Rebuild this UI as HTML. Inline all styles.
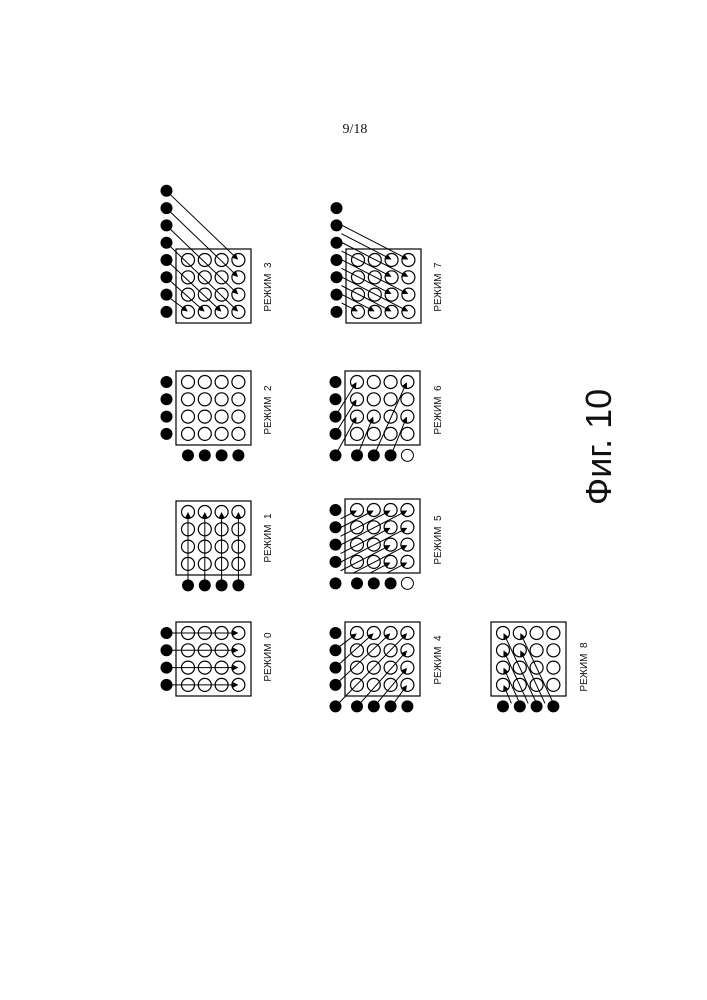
<!DOCTYPE html>
<html><head><meta charset="utf-8">
<style>
html,body{margin:0;padding:0;background:#fff;}
svg{display:block;}
text{font-family:"Liberation Sans",sans-serif;fill:#111;}
</style></head>
<body>
<svg id="s" width="707" height="1000" viewBox="0 0 707 1000" xmlns="http://www.w3.org/2000/svg">
<defs>
<marker id="a" markerWidth="6" markerHeight="6" refX="5" refY="3" orient="auto" markerUnits="userSpaceOnUse">
<path d="M0,0 L6,3 L0,6 z" fill="#000"/>
</marker>
</defs>
<text x="355" y="133" font-size="14" text-anchor="middle" style="font-family:'Liberation Serif',serif">9/18</text>
<text transform="translate(271,287) rotate(-90)" font-size="10" text-anchor="middle">РЕЖИМ&#160; 3</text>
<text transform="translate(271,410) rotate(-90)" font-size="10" text-anchor="middle">РЕЖИМ&#160; 2</text>
<text transform="translate(271,538) rotate(-90)" font-size="10" text-anchor="middle">РЕЖИМ&#160; 1</text>
<text transform="translate(271,657) rotate(-90)" font-size="10" text-anchor="middle">РЕЖИМ&#160; 0</text>
<text transform="translate(441,287) rotate(-90)" font-size="10" text-anchor="middle">РЕЖИМ&#160; 7</text>
<text transform="translate(441,410) rotate(-90)" font-size="10" text-anchor="middle">РЕЖИМ&#160; 6</text>
<text transform="translate(441,540) rotate(-90)" font-size="10" text-anchor="middle">РЕЖИМ&#160; 5</text>
<text transform="translate(441,660) rotate(-90)" font-size="10" text-anchor="middle">РЕЖИМ&#160; 4</text>
<text transform="translate(587,667) rotate(-90)" font-size="10" text-anchor="middle">РЕЖИМ&#160; 8</text>
<text transform="translate(611,447) rotate(-90)" font-size="36" text-anchor="middle">Фиг. 10</text>
<g id="g"></g>
</svg>
<script>
var NS="http://www.w3.org/2000/svg",G=document.getElementById('g');
var DX=16.8,DY=17.3;
function el(t,a){var e=document.createElementNS(NS,t);for(var k in a)e.setAttribute(k,a[k]);G.appendChild(e);return e;}
function mode(ox,oy,opt){
  var P=function(c,r){return [ox+c*DX,oy+r*DY];};
  el('rect',{x:ox-12,y:oy-11,width:75,height:74,fill:'none',stroke:'#000','stroke-width':1.2});
  for(var r=0;r<4;r++)for(var c=0;c<4;c++){var p=P(c,r);el('circle',{cx:p[0],cy:p[1],r:6.5,fill:'#fff',stroke:'#000','stroke-width':1.2});}
  var lx=ox-21.5,by=oy+3*DY+21.5;
  (opt.left||[]).forEach(function(r){el('circle',{cx:lx,cy:oy+r*DY,r:6,fill:'#000'});});
  (opt.bottom||[]).forEach(function(c){el('circle',{cx:ox+c*DX,cy:by,r:6,fill:'#000'});});
  (opt.bottomW||[]).forEach(function(c){el('circle',{cx:ox+c*DX,cy:by,r:6,fill:'#fff',stroke:'#000','stroke-width':1});});
  if(opt.corner)el('circle',{cx:lx,cy:by,r:6,fill:'#000'});
  (opt.lines||[]).forEach(function(L){var a=L[0],b=L[1];el('line',{x1:a[0],y1:a[1],x2:b[0],y2:b[1],stroke:'#000','stroke-width':1,'marker-end':'url(#a)'});});
  return {P:P,lx:lx,by:by};
}
function ln(sx,sy,ex,ey){return [[sx,sy],[ex,ey]];}
(function(){var ox=188,oy=260,L=[];var lx=ox-21.5;
 var t=[[3,0],[3,1],[3,2],[3,3],[2,3],[1,3],[0,3]];
 t.forEach(function(q,i){var sy=oy+(i-4)*DY;L.push(ln(lx+4,sy+4,ox+q[0]*DX-1,oy+q[1]*DY-1));});
 mode(ox,oy,{left:[-4,-3,-2,-1,0,1,2,3],lines:L});})();
mode(188,382,{left:[0,1,2,3],bottom:[0,1,2,3]});
(function(){var ox=188,oy=512,L=[];for(var c=0;c<4;c++){var x=ox+c*DX;L.push(ln(x,oy+3*DY+16,x,oy+1));}
 mode(ox,oy,{bottom:[0,1,2,3],lines:L});})();
(function(){var ox=188,oy=633,L=[];for(var r=0;r<4;r++){var y=oy+r*DY;L.push(ln(ox-16,y,ox+3*DX-1,y));}
 mode(ox,oy,{left:[0,1,2,3],lines:L});})();
(function(){var ox=358,oy=260,L=[];var sx=ox-21.5+5;
 var ss=[-2,-1.5,-1,-0.5,0,0.5,1,1.5,2,2.5];
 ss.forEach(function(s){var tc,tr;if(s%1===0){tc=3;tr=s+2;if(tr>3){tc=3-2*(tr-3);tr=3;}}else{tc=2;tr=s+1.5;if(tr>3){tc=2-2*(tr-3);tr=3;}}
  var ex=ox+tc*DX-1,ey=oy+tr*DY-1;var k=(ex-sx)/DX;L.push(ln(sx,ey-k*DY/2,ex,ey));});
 mode(ox,oy,{left:[-3,-2,-1,0,1,2,3],lines:L});})();
(function(){var ox=357,oy=382,lx=ox-21.5,by=oy+3*DY+21.5,L=[];
 var P=function(c,r){return [ox+c*DX-1,oy+r*DY+1];};
 var seg=[[[lx,oy+2*DY],[0,0]],[[lx,oy+3*DY],[0,1]],[[lx,by],[0,2]],[[ox,by],[1,2]],[[ox+DX,by],[3,0]],[[ox+2*DX,by],[3,2]]];
 seg.forEach(function(s){var e=P(s[1][0],s[1][1]);L.push(ln(s[0][0]+2,s[0][1]-4,e[0],e[1]));});
 mode(ox,oy,{left:[0,1,2,3],corner:true,bottom:[0,1,2],bottomW:[3],lines:L});})();
(function(){var ox=357,oy=510,L=[];var sx=ox-21.5+5,maxy=oy+3*DY+11;
 var t=[[0,0],[1,0],[2,0],[3,0],[2,1],[3,1],[2,2],[3,2],[2,3],[3,3]];
 t.forEach(function(q){var ex=ox+q[0]*DX-1,ey=oy+q[1]*DY+1;var k=(ex-sx)/DX;var sy=ey+k*DY/2,x0=sx;
  if(sy>maxy){var over=(sy-maxy)/(DY/2);x0=sx+over*DX;sy=maxy;}L.push(ln(x0,sy,ex,ey));});
 mode(ox,oy,{left:[0,1,2,3],corner:true,bottom:[0,1,2],bottomW:[3],lines:L});})();
(function(){var ox=357,oy=633,lx=ox-21.5,by=oy+3*DY+21.5,L=[];
 var seg=[[[lx,oy+DY],[0,0]],[[lx,oy+2*DY],[1,0]],[[lx,oy+3*DY],[2,0]],[[lx,by],[3,0]],[[ox,by],[3,1]],[[ox+DX,by],[3,2]],[[ox+2*DX,by],[3,3]]];
 seg.forEach(function(s){L.push(ln(s[0][0]+3,s[0][1]-3,ox+s[1][0]*DX-1,oy+s[1][1]*DY+1));});
 mode(ox,oy,{left:[0,1,2,3],corner:true,bottom:[0,1,2,3],lines:L});})();
(function(){var ox=503,oy=633,by=oy+3*DY+21.5,L=[];
 var t=[[0,0,2],[1,0,3],[0,1,1.5],[1,1,2.5],[0,2,1],[0,3,0.5]];
 t.forEach(function(q){L.push(ln(ox+q[2]*DX,by-3,ox+q[0]*DX+1,oy+q[1]*DY+1));});
 mode(ox,oy,{bottom:[0,1,2,3],lines:L});})();
</script>
</body></html>
